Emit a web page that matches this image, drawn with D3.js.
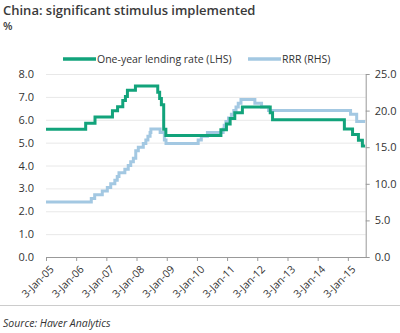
<!DOCTYPE html>
<html><head><meta charset="utf-8">
<script src="https://cdn.jsdelivr.net/npm/d3@7"></script>
<style>
body{margin:0;background:#fff;}
svg{display:block;font-family:"Open Sans",sans-serif;}
</style></head>
<body><svg id="c" width="400" height="333"></svg>
<script>
const lendingDates = ["2005-01-03","2006-04-28","2006-08-19","2007-03-18","2007-05-19","2007-07-21","2007-08-22","2007-09-15","2007-12-21","2008-09-16","2008-10-09","2008-10-30","2008-11-27","2008-12-23","2010-10-20","2010-12-26","2011-02-09","2011-04-06","2011-07-07","2012-06-08","2012-07-06","2014-11-22","2015-03-01","2015-05-11","2015-06-28","2015-07-31"];
const lendingRate = [5.58,5.85,6.12,6.39,6.57,6.84,7.02,7.29,7.47,7.20,6.93,6.66,5.58,5.31,5.56,5.81,6.06,6.31,6.56,6.31,6.00,5.60,5.35,5.10,4.85,4.85];
const rrrDates = ["2005-01-03","2006-07-05","2006-08-15","2006-11-15","2007-01-15","2007-02-25","2007-04-16","2007-05-15","2007-06-05","2007-08-15","2007-09-25","2007-10-25","2007-11-26","2007-12-25","2008-01-25","2008-03-25","2008-04-25","2008-05-20","2008-06-15","2008-06-25","2008-10-15","2008-12-05","2008-12-25","2010-01-18","2010-02-25","2010-05-10","2010-11-16","2010-11-29","2010-12-20","2011-01-20","2011-02-24","2011-03-25","2011-04-21","2011-05-18","2011-06-20","2011-12-05","2012-02-24","2012-05-18","2015-02-05","2015-04-20","2015-07-31"];
const rrr = [7.5,8.0,8.5,9.0,9.5,10.0,10.5,11.0,11.5,12.0,12.5,13.0,13.5,14.5,15.0,15.5,16.0,16.5,17.0,17.5,17.0,16.0,15.5,16.0,16.5,17.0,17.5,18.0,18.5,19.0,19.5,20.0,20.5,21.0,21.5,21.0,20.5,20.0,19.5,18.5,18.5];
const xTickDates = ["2005-01-03","2006-01-03","2007-01-03","2008-01-03","2009-01-03","2010-01-03","2011-01-03","2012-01-03","2013-01-03","2014-01-03","2015-01-03"];
const leftTicks = [0,1,2,3,4,5,6,7,8];
const rightTicks = [0,5,10,15,20,25];
const seriesNames = ["One-year lending rate (LHS)","RRR (RHS)"];

const parse = d3.timeParse("%Y-%m-%d");
const green = "#12a37b", blue = "#a3c8e2", txt = "#333";
const svg = d3.select("#c");
const L = 46, R = 365.7, T = 74, B = 257;
const x = d3.scaleTime().domain([parse("2005-01-03"), parse("2015-08-07")]).range([L, R]);
const yL = d3.scaleLinear().domain([0, 8]).range([B, T]);
const yR = d3.scaleLinear().domain([0, 25]).range([B, T]);

// title
svg.append("text").attr("x",3).attr("y",15).attr("font-size",13).attr("font-weight",600).attr("fill","#3a3a3a").text("China: significant stimulus implemented");
svg.append("text").attr("x",3).attr("y",30).attr("font-size",11).attr("font-weight",600).attr("fill","#3a3a3a").text("%");

// gridlines
svg.append("g").selectAll("line").data(leftTicks.filter(d=>d>0)).join("line")
  .attr("x1",L).attr("x2",R).attr("y1",d=>yL(d)+0.5).attr("y2",d=>yL(d)+0.5)
  .attr("stroke","#e8e8e8").attr("stroke-width",1);

// left axis labels
const gl = svg.append("g").attr("transform",`translate(${L},0)`).call(d3.axisLeft(yL).tickValues(leftTicks).tickFormat(d3.format(".1f")).tickSize(0).tickPadding(12));
gl.select(".domain").remove();
gl.selectAll("text").attr("font-size",11).attr("fill",txt).attr("font-family","Open Sans");

// right axis
const gr = svg.append("g").attr("transform",`translate(${R},0)`).call(d3.axisRight(yR).tickValues(rightTicks).tickFormat(d3.format(".1f")).tickSize(4).tickSizeOuter(0).tickPadding(5));
gr.select(".domain").attr("stroke","#999");
gr.selectAll(".tick line").attr("stroke","#999");
gr.selectAll("text").attr("font-size",11).attr("fill",txt).attr("font-family","Open Sans");

// x axis
const gx = svg.append("g").attr("transform",`translate(0,${B})`).call(d3.axisBottom(x).tickValues(xTickDates.map(parse)).tickFormat(d3.timeFormat("%-d-%b-%y")).tickSize(4).tickSizeOuter(0));
gx.select(".domain").attr("stroke","#999");
gx.selectAll(".tick line").attr("stroke","#999");
gx.selectAll("text").attr("font-size",10.5).attr("fill",txt).attr("font-family","Open Sans")
  .attr("text-anchor","end").attr("dy",0).attr("transform","translate(3,8) rotate(-45)");

// lines
const rData = rrrDates.map((d,i)=>({d:parse(d),v:rrr[i]}));
const gData = lendingDates.map((d,i)=>({d:parse(d),v:lendingRate[i]}));
svg.append("path").datum(rData).attr("fill","none").attr("stroke",blue).attr("stroke-width",3)
  .attr("d",d3.line().x(d=>x(d.d)).y(d=>yR(d.v)).curve(d3.curveStepAfter));
svg.append("path").datum(gData).attr("fill","none").attr("stroke",green).attr("stroke-width",3)
  .attr("d",d3.line().x(d=>x(d.d)).y(d=>yL(d.v)).curve(d3.curveStepAfter));

// legend
const leg = [{c:green,x:63,t:seriesNames[0]},{c:blue,x:248,t:seriesNames[1]}];
leg.forEach(l=>{
  svg.append("line").attr("x1",l.x).attr("x2",l.x+33).attr("y1",59).attr("y2",59).attr("stroke",l.c).attr("stroke-width",3.5);
  svg.append("text").attr("x",l.x+34).attr("y",63).attr("font-size",10.5).attr("fill",txt).text(l.t);
});

// bottom rule and source
svg.append("line").attr("x1",0).attr("x2",400).attr("y1",305.5).attr("y2",305.5).attr("stroke","#ccc");
svg.append("text").attr("x",3).attr("y",327).attr("font-size",10.5).attr("font-style","italic").attr("fill",txt).text("Source: Haver Analytics");
</script></body></html>
